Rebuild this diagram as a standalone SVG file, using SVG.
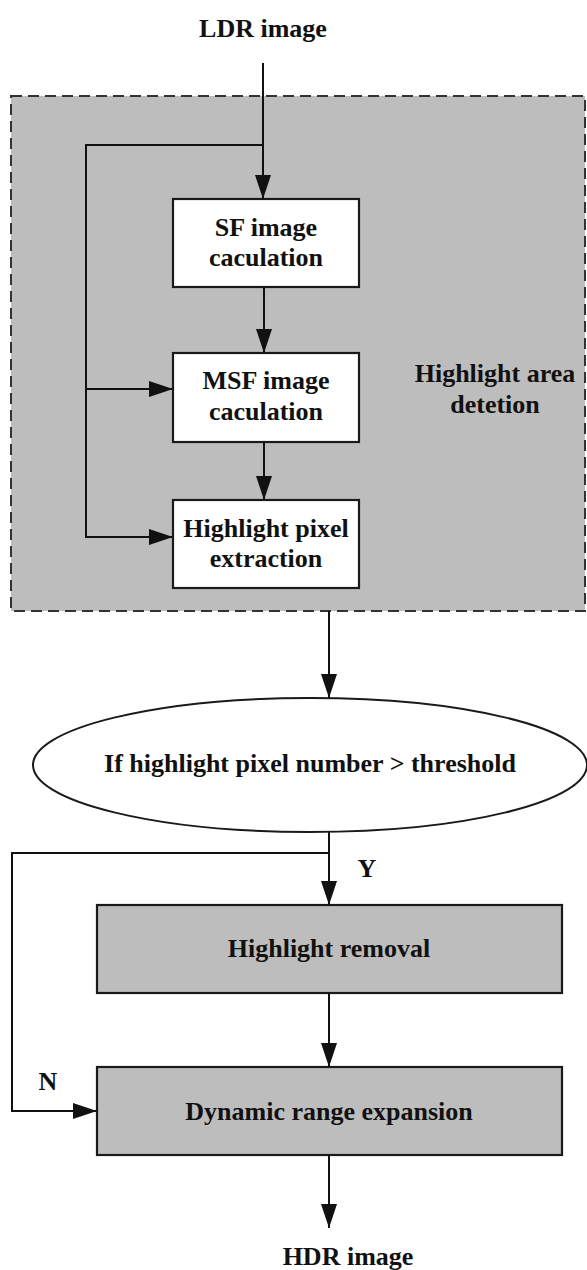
<svg xmlns="http://www.w3.org/2000/svg" width="587" height="1270" viewBox="0 0 587 1270">
<style>
text{font-family:"Liberation Serif","Times New Roman",serif;font-weight:bold;font-size:26px;fill:#111;text-anchor:middle}
.box{stroke:#1a1a1a;stroke-width:2.2}
.white{fill:#fff}
.gray{fill:#bdbdbd}
.ln{fill:none;stroke:#111;stroke-width:2}
</style>
<defs>
<marker id="ah" markerUnits="userSpaceOnUse" markerWidth="26" markerHeight="18" refX="24" refY="8" orient="auto">
<path d="M0,0 L24,8 L0,16 z" fill="#111"/>
</marker>
</defs>
<rect width="587" height="1270" fill="#fff"/>
<g id="ldr"><text x="263" y="37">LDR image</text></g>
<g id="group-area">
<rect x="11" y="96" width="574" height="515" fill="#bdbdbd" stroke="#333" stroke-width="2" stroke-dasharray="11,6"/>
<text x="495" y="382">Highlight area</text>
<text x="495" y="413">detetion</text>
</g>
<g id="sf"><rect class="box white" x="173" y="199" width="186" height="88"/>
<text x="266" y="236">SF image</text><text x="266" y="266">caculation</text></g>
<g id="msf"><rect class="box white" x="173" y="353" width="186" height="89"/>
<text x="266" y="389">MSF image</text><text x="266" y="420">caculation</text></g>
<g id="hpe"><rect class="box white" x="173" y="500" width="186" height="88"/>
<text x="266" y="537">Highlight pixel</text><text x="266" y="567">extraction</text></g>
<g id="decision"><ellipse cx="310" cy="765" rx="277" ry="67" fill="#fff" stroke="#1a1a1a" stroke-width="2"/>
<text x="310" y="772">If highlight pixel number &gt; threshold</text></g>
<g id="removal"><rect class="box gray" x="97" y="905" width="465" height="88"/>
<text x="329" y="957">Highlight removal</text></g>
<g id="expansion"><rect class="box gray" x="97" y="1067" width="465" height="88"/>
<text x="329" y="1120">Dynamic range expansion</text></g>
<g id="hdr"><text x="348" y="1265">HDR image</text></g>
<g id="connectors">
<path class="ln" d="M263,63 V199" marker-end="url(#ah)"/>
<path class="ln" d="M263,145 H86 V537 H173" marker-end="url(#ah)"/>
<path class="ln" d="M86,389 H173" marker-end="url(#ah)"/>
<path class="ln" d="M264,287 V353" marker-end="url(#ah)"/>
<path class="ln" d="M264,442 V500" marker-end="url(#ah)"/>
<path class="ln" d="M329,611 V698" marker-end="url(#ah)"/>
<path class="ln" d="M329,832 V905" marker-end="url(#ah)"/>
<path class="ln" d="M329,853 H12 V1111 H97" marker-end="url(#ah)"/>
<path class="ln" d="M329,993 V1067" marker-end="url(#ah)"/>
<path class="ln" d="M329,1155 V1228" marker-end="url(#ah)"/>
<text x="367" y="877">Y</text>
<text x="48" y="1090">N</text>
</g>
</svg>
